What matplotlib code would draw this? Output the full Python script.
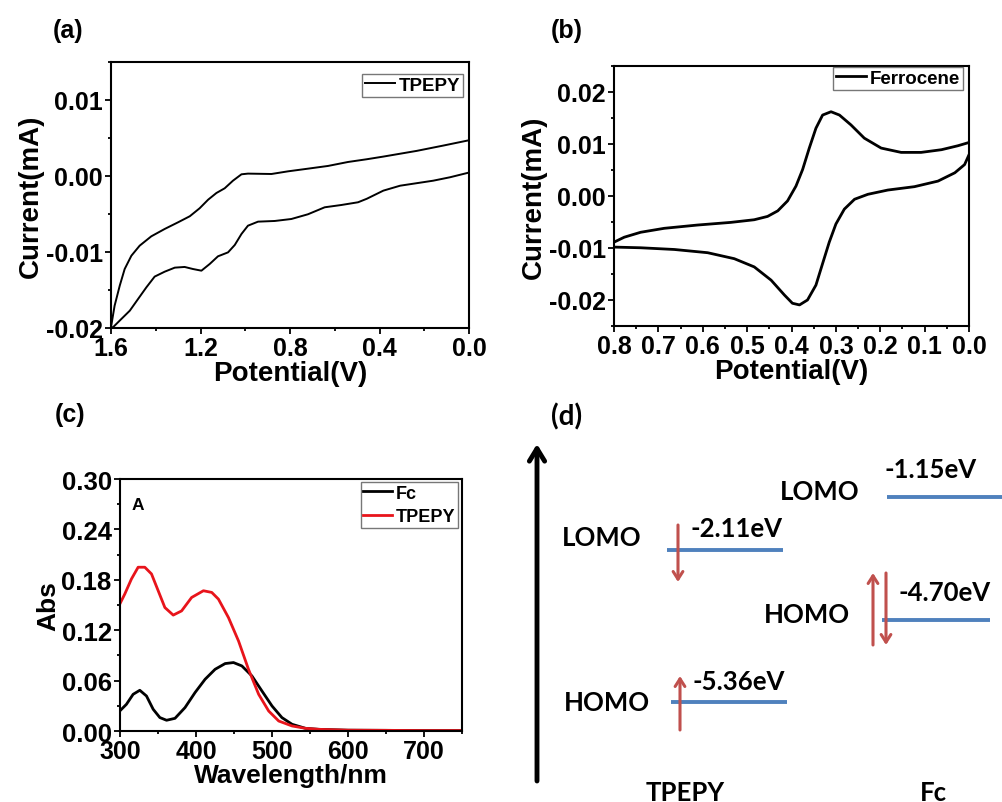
import matplotlib
matplotlib.use("Agg")
import matplotlib.pyplot as plt
from matplotlib.ticker import MultipleLocator, FormatStrFormatter

plt.rcParams['font.family'] = ['Liberation Sans', 'DejaVu Sans']
plt.rcParams['font.weight'] = 'bold'
plt.rcParams['lines.solid_joinstyle'] = 'round'

# ---------------- data ----------------
# (a) TPEPY cyclic voltammogram (upper = forward branch, lower = reverse branch)
tpepy_up_v = [1.599, 1.584, 1.561, 1.539, 1.509, 1.472, 1.420, 1.360, 1.300, 1.248, 1.204, 1.166, 1.129,
              1.092, 1.055, 1.017, 0.988, 0.883, 0.809, 0.720, 0.630, 0.541, 0.457, 0.383, 0.234, 0.115, 0.0]
tpepy_up_i = [-0.0197, -0.01707, -0.01443, -0.01224, -0.01049, -0.00917, -0.00794, -0.00697, -0.00609,
              -0.00530, -0.00425, -0.00312, -0.00224, -0.00162, -0.00062, 0.00022, 0.00031, 0.00026,
              0.00061, 0.00096, 0.00132, 0.00184, 0.0022, 0.00255, 0.0033, 0.0040, 0.0047]
tpepy_lo_v = [1.599, 1.591, 1.554, 1.516, 1.479, 1.442, 1.405, 1.360, 1.315, 1.271, 1.234, 1.196, 1.159,
              1.122, 1.077, 1.047, 1.017, 0.988, 0.943, 0.868, 0.794, 0.720, 0.645, 0.571, 0.496,
              0.457, 0.383, 0.308, 0.160, 0.085, 0.0]
tpepy_lo_i = [-0.0199, -0.0199, -0.01882, -0.01772, -0.01618, -0.01465, -0.01324, -0.01259, -0.01206,
              -0.01197, -0.01224, -0.01246, -0.01158, -0.01057, -0.01005, -0.00908, -0.00763, -0.00654,
              -0.00601, -0.00592, -0.00566, -0.00504, -0.00412, -0.00382, -0.00346, -0.0030, -0.00193,
              -0.00128, -0.00062, -0.00017, 0.00045]

# (b) Ferrocene cyclic voltammogram
fc_up_v = [0.8, 0.777, 0.740, 0.687, 0.612, 0.537, 0.484, 0.454, 0.431, 0.409, 0.390, 0.375, 0.360, 0.345,
           0.330, 0.311, 0.292, 0.266, 0.236, 0.198, 0.153, 0.108, 0.062, 0.025, 0.0]
fc_up_i = [-0.00888, -0.00793, -0.00698, -0.00622, -0.00559, -0.00508, -0.00457, -0.00393, -0.00286,
           -0.00095, 0.0019, 0.00509, 0.00921, 0.01303, 0.01556, 0.0162, 0.01556, 0.01366, 0.01112,
           0.00921, 0.00838, 0.00838, 0.0089, 0.00966, 0.01029]
fc_lo_v = [0.0, 0.010, 0.032, 0.070, 0.123, 0.183, 0.228, 0.258, 0.281, 0.300, 0.315, 0.330, 0.345, 0.364,
           0.382, 0.398, 0.416, 0.446, 0.484, 0.529, 0.589, 0.664, 0.740, 0.8]
fc_lo_i = [0.00794, 0.00604, 0.00446, 0.00286, 0.00179, 0.00114, 0.00032, -0.00063, -0.00253, -0.00539,
           -0.00888, -0.0130, -0.01714, -0.0200, -0.02095, -0.02063, -0.01905, -0.01619, -0.01364,
           -0.01206, -0.01091, -0.01029, -0.00996, -0.00983]

# (c) UV-vis absorption
wl_tpepy = [299.6, 306.2, 315, 323.8, 332.6, 341.4, 350.2, 359, 370, 381, 394.2, 409.7, 420.7, 429.5,
            442.7, 456, 469, 482.4, 495.6, 508.8, 526.4, 544, 561.8, 600, 650, 700, 751]
abs_tpepy = [0.151, 0.163, 0.181, 0.195, 0.195, 0.187, 0.167, 0.147, 0.138, 0.143, 0.159, 0.167, 0.165,
             0.157, 0.135, 0.107, 0.0735, 0.0437, 0.0238, 0.0119, 0.006, 0.0032, 0.002, 0.001, 0.0008,
             0.0005, 0.0005]
wl_fc = [299.6, 308.4, 317.2, 326, 334.8, 343.6, 352.4, 361.2, 372.3, 385.5, 398.7, 411.9, 425.1, 438.3,
         449.3, 460.3, 473.5, 486.7, 500, 513, 526.4, 544, 561.8, 600, 650, 700, 751]
abs_fc = [0.0238, 0.0318, 0.0437, 0.0485, 0.0417, 0.0259, 0.016, 0.0128, 0.0151, 0.0279, 0.0458, 0.0616,
          0.0735, 0.0803, 0.0815, 0.0775, 0.0656, 0.0477, 0.0298, 0.016, 0.008, 0.0032, 0.002, 0.001,
          0.0008, 0.0005, 0.0005]

# (d) energy levels
level_names = ['LOMO', 'HOMO', 'LOMO', 'HOMO']
level_values = ['-2.11eV', '-5.36eV', '-1.15eV', '-4.70eV']
compounds = ['TPEPY', 'Fc']

# ---------------- figure ----------------
fig = plt.figure(figsize=(10.02, 8.03), dpi=100)


def style(ax, fx=18, fy=18):
    for s in ax.spines.values():
        s.set_linewidth(1.5)
    ax.tick_params(which='both', direction='out', top=False, right=False, width=1.3)
    ax.tick_params(axis='x', labelsize=fx, pad=2)
    ax.tick_params(axis='y', labelsize=fy, pad=2)
    ax.tick_params(which='major', length=4)
    ax.tick_params(which='minor', length=2.5)
    for lab in ax.get_xticklabels() + ax.get_yticklabels():
        lab.set_fontweight('bold')


def legend(ax, anchor, fs=13.5):
    leg = ax.legend(loc='upper right', bbox_to_anchor=anchor, fontsize=fs, frameon=True, fancybox=False,
                    borderpad=0.15, handlelength=1.6, handletextpad=0.2, labelspacing=0.35,
                    borderaxespad=0.0)
    leg.get_frame().set_edgecolor('#555555')
    leg.get_frame().set_linewidth(1.0)
    for t in leg.get_texts():
        t.set_fontweight('bold')
    return leg


# (a)
axa = fig.add_axes([0.1108, 0.5903, 0.3573, 0.3313])
axa.plot(tpepy_up_v, tpepy_up_i, color='black', lw=1.4, label='TPEPY')
axa.plot(tpepy_lo_v, tpepy_lo_i, color='black', lw=1.4)
axa.set_xlim(1.6, 0.0)
axa.set_ylim(-0.02, 0.015)
axa.xaxis.set_major_locator(MultipleLocator(0.4))
axa.xaxis.set_minor_locator(MultipleLocator(0.2))
axa.yaxis.set_major_locator(MultipleLocator(0.01))
axa.yaxis.set_minor_locator(MultipleLocator(0.005))
axa.xaxis.set_major_formatter(FormatStrFormatter('%.1f'))
axa.yaxis.set_major_formatter(FormatStrFormatter('%.2f'))
style(axa)
axa.set_xlabel('Potential(V)', fontsize=20, fontweight='bold', labelpad=0)
axa.set_ylabel('Current(mA)', fontsize=20, fontweight='bold', labelpad=1)
legend(axa, (0.983, 0.955))
fig.text(0.068, 0.962, '(a)', fontsize=18, fontweight='bold', ha='center', va='center')

# (b)
axb = fig.add_axes([0.6128, 0.5928, 0.3543, 0.3238])
axb.plot(fc_up_v, fc_up_i, color='black', lw=2, label='Ferrocene')
axb.plot(fc_lo_v, fc_lo_i, color='black', lw=2)
axb.set_xlim(0.8, 0.0)
axb.set_ylim(-0.025, 0.025)
axb.xaxis.set_major_locator(MultipleLocator(0.1))
axb.xaxis.set_minor_locator(MultipleLocator(0.05))
axb.yaxis.set_major_locator(MultipleLocator(0.01))
axb.yaxis.set_minor_locator(MultipleLocator(0.005))
axb.xaxis.set_major_formatter(FormatStrFormatter('%.1f'))
axb.yaxis.set_major_formatter(FormatStrFormatter('%.2f'))
style(axb, fx=18, fy=18)
axb.set_xlabel('Potential(V)', fontsize=20, fontweight='bold', labelpad=0)
axb.set_ylabel('Current(mA)', fontsize=20, fontweight='bold', labelpad=1)
legend(axb, (0.983, 0.996))
fig.text(0.566, 0.962, '(b)', fontsize=18, fontweight='bold', ha='center', va='center')

# (c)
axc = fig.add_axes([0.1198, 0.0884, 0.3413, 0.3138])
axc.plot(wl_fc, abs_fc, color='black', lw=2, label='Fc')
axc.plot(wl_tpepy, abs_tpepy, color='#e8141b', lw=2, label='TPEPY')
axc.set_xlim(300, 750)
axc.set_ylim(0, 0.30)
axc.xaxis.set_major_locator(MultipleLocator(100))
axc.xaxis.set_minor_locator(MultipleLocator(50))
axc.yaxis.set_major_locator(MultipleLocator(0.06))
axc.yaxis.set_minor_locator(MultipleLocator(0.03))
axc.yaxis.set_major_formatter(FormatStrFormatter('%.2f'))
style(axc, fx=18, fy=18.5)
axc.set_xlabel('Wavelength/nm', fontsize=19, fontweight='bold', labelpad=0)
axc.set_ylabel('Abs', fontsize=19, fontweight='bold', labelpad=1)
legend(axc, (0.988, 0.988), fs=13)
axc.text(0.035, 0.9, 'A', transform=axc.transAxes, fontsize=12.5, fontweight='bold', ha='left', va='center')
fig.text(0.070, 0.483, '(c)', fontsize=18, fontweight='bold', ha='center', va='center')

# (d) energy diagram (schematic, coordinates of the panel region)
axd = fig.add_axes([520/1002, 0, 482/1002, 403/803])
axd.set_xlim(520, 1002)
axd.set_ylim(803, 400)
axd.axis('off')
dfont = dict(family=['Lato', 'DejaVu Sans'], fontweight='bold', fontsize=18.5)
blue = '#4f81bd'
red = '#c0504d'

axd.annotate('', xy=(537, 445), xytext=(537, 782),
             arrowprops=dict(arrowstyle='->,head_length=0.9,head_width=0.55', lw=3.5, color='black',
                             shrinkA=0, shrinkB=0))
axd.text(567, 417, '(d)', family=['Lato', 'DejaVu Sans'], fontweight='bold', fontsize=20,
         ha='center', va='center')

# levels: x0, x1, y ; name position ; value text position
levels = [
    (667, 783, 551, (602, 538), (690, 529)),
    (671, 787, 703, (607, 703), (692, 682)),
    (887, 1002, 498, (820, 492), (885, 470)),
    (882, 990, 621, (807, 615), (898, 593)),
]
for (x0, x1, y, npos, vpos), nm, val in zip(levels, level_names, level_values):
    axd.plot([x0, x1], [y, y], color=blue, lw=2.8, solid_capstyle='butt')
    axd.text(npos[0], npos[1], nm, **dfont, ha='center', va='center')
    axd.text(vpos[0], vpos[1], val, **dfont, ha='left', va='center')

arrows = [((678, 526), (678, 583)), ((680, 731), (680, 677)),
          ((873, 646), (873, 574)), ((886, 574), (886, 646))]
for start, end in arrows:
    axd.annotate('', xy=end, xytext=start,
                 arrowprops=dict(arrowstyle='->,head_length=0.55,head_width=0.35', lw=2.2, color=red,
                                 shrinkA=0, shrinkB=0))

axd.text(685, 793, compounds[0], **dfont, ha='center', va='center')
axd.text(933, 793, compounds[1], **dfont, ha='center', va='center')

fig.savefig('out.png', dpi=100)
